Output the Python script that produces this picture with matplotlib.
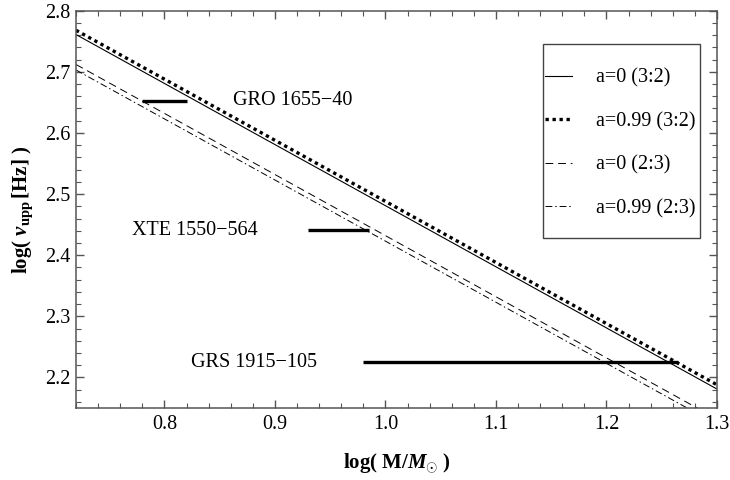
import numpy as np
import matplotlib
matplotlib.use("Agg")
import matplotlib.pyplot as plt
from matplotlib.patches import Rectangle
from matplotlib.ticker import MultipleLocator

plt.rcParams['font.family'] = ['Liberation Serif', 'DejaVu Serif']
plt.rcParams['mathtext.fontset'] = 'custom'
plt.rcParams['mathtext.rm'] = 'Liberation Serif:bold'
plt.rcParams['mathtext.it'] = 'Liberation Serif:italic:bold'
plt.rcParams['mathtext.bf'] = 'Liberation Serif:bold'

# resonance lines, log(M/Msun) vs log(nu_upp), end points
line_x = [0.72, 1.30]
a0_32 = [2.761, 2.181]
a099_32 = [2.768, 2.188]
a0_23 = [2.712, 2.132]
a099_23 = [2.703, 2.123]
line_labels = ["a=0 (3:2)", "a=0.99 (3:2)", "a=0 (2:3)", "a=0.99 (2:3)"]

# observed sources: mass range and frequency
sources = ["GRO 1655\u221240", "XTE 1550\u2212564", "GRS 1915\u2212105"]
src_mlo = [0.78, 0.93, 0.98]
src_mhi = [0.82, 0.985, 1.265]
src_nu = [2.653, 2.441, 2.225]
src_text_x = [0.862, 0.7705, 0.824]

fig = plt.figure(figsize=(7.3, 4.8), dpi=100)
ax = fig.add_axes([76/730, 72/480, 641/730, 397.3/480])

h1, = ax.plot(line_x, a0_32, color='black', lw=0.8, ls='-')
h2, = ax.plot(line_x, a099_32, color='black', lw=2.4, ls=(0, (1, 1.1)),
              dash_capstyle='butt')
h3, = ax.plot(line_x, a0_23, color='black', lw=0.7, ls=(0, (8, 5)))
h4, = ax.plot(line_x, a099_23, color='black', lw=0.7, ls=(0, (7, 3, 1.5, 3)))

for name, lo, hi, nu, tx in zip(sources, src_mlo, src_mhi, src_nu, src_text_x):
    ax.plot([lo, hi], [nu, nu], color='black', lw=2.4, solid_capstyle='butt')
    ax.text(tx, nu, name, fontsize=14.5, ha='left', va='center')

ax.set_xlim(0.72, 1.3)
ax.set_ylim(2.15, 2.8)
ax.xaxis.set_major_locator(MultipleLocator(0.1))
ax.xaxis.set_minor_locator(MultipleLocator(0.02))
ax.yaxis.set_major_locator(MultipleLocator(0.1))
ax.yaxis.set_minor_locator(MultipleLocator(0.02))
ax.xaxis.set_major_formatter(plt.FuncFormatter(lambda v, p: f"{v:.1f}"))
ax.yaxis.set_major_formatter(plt.FuncFormatter(lambda v, p: f"{v:.1f}"))
ax.tick_params(which='both', direction='in', top=True, right=True,
               color='#555555', labelsize=14.5)
ax.tick_params(which='major', length=6, width=1.0)
ax.tick_params(which='minor', length=3.5, width=0.8)
ax.tick_params(axis='x', pad=5)
ax.tick_params(axis='y', pad=4)
for s in ax.spines.values():
    s.set_color('#555555')
    s.set_linewidth(1.1)

ax.set_xlabel(r"log( M/$M_{\odot}$ )", fontsize=15, fontweight='bold', labelpad=12)
ax.set_ylabel(r"log( $\nu_{\rm upp}\,$[Hz] )", fontsize=15, fontweight='bold', labelpad=7)

leg = ax.legend([h1, h2, h3, h4], line_labels, loc='center left',
                bbox_to_anchor=(0.7317, 0.666), frameon=False, fontsize=14.5,
                borderpad=0, borderaxespad=0, labelspacing=1.2,
                handlelength=1.35, handletextpad=1.2)
ax.add_patch(Rectangle((0.728, 0.427), 0.245, 0.488, transform=ax.transAxes,
                       fill=False, edgecolor='#444444', lw=1.0, zorder=5))

fig.savefig("out.png", dpi=100)
